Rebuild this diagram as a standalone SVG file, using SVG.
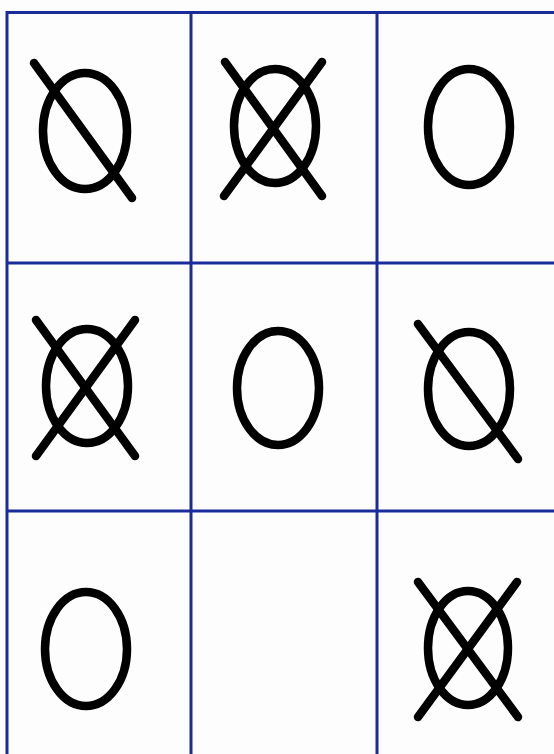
<svg xmlns="http://www.w3.org/2000/svg" width="554" height="754" viewBox="0 0 554 754">
<style>
.grid{stroke:#1a2c9a;stroke-width:3;fill:none}
.sym{stroke:#000;stroke-width:8.5;fill:none;stroke-linecap:round}
</style>
<rect x="0" y="0" width="554" height="754" fill="#fdfdfd"/>
<g id="grid">
<line class="grid" x1="7" y1="12.5" x2="554" y2="12.5"/>
<line class="grid" x1="7" y1="263" x2="554" y2="263"/>
<line class="grid" x1="7" y1="511" x2="554" y2="511"/>
<line class="grid" x1="7" y1="11" x2="7" y2="754"/>
<line class="grid" x1="191" y1="11" x2="191" y2="754"/>
<line class="grid" x1="377" y1="11" x2="377" y2="754"/>
</g>
<g id="cell1">
<ellipse class="sym" cx="85" cy="131" rx="42" ry="58"/>
<line class="sym" x1="34" y1="63" x2="132" y2="198"/>
</g>
<g id="cell2">
<ellipse class="sym" cx="275" cy="126" rx="41" ry="57"/>
<line class="sym" x1="225" y1="62" x2="322" y2="196"/>
<line class="sym" x1="322" y1="62" x2="224" y2="196"/>
</g>
<g id="cell3">
<ellipse class="sym" cx="469" cy="127" rx="41" ry="58"/>
</g>
<g id="cell4">
<ellipse class="sym" cx="87" cy="386" rx="41" ry="57"/>
<line class="sym" x1="36" y1="320" x2="135" y2="456"/>
<line class="sym" x1="135" y1="320" x2="36" y2="456"/>
</g>
<g id="cell5">
<ellipse class="sym" cx="278" cy="388" rx="41" ry="57"/>
</g>
<g id="cell6">
<ellipse class="sym" cx="469" cy="389" rx="41" ry="57"/>
<line class="sym" x1="418" y1="324" x2="518" y2="459"/>
</g>
<g id="cell7">
<ellipse class="sym" cx="86" cy="649" rx="41" ry="57"/>
</g>
<g id="cell8"></g>
<g id="cell9">
<ellipse class="sym" cx="468" cy="648" rx="40" ry="57"/>
<line class="sym" x1="418" y1="582" x2="518" y2="717"/>
<line class="sym" x1="517" y1="582" x2="418" y2="717"/>
</g>
</svg>
